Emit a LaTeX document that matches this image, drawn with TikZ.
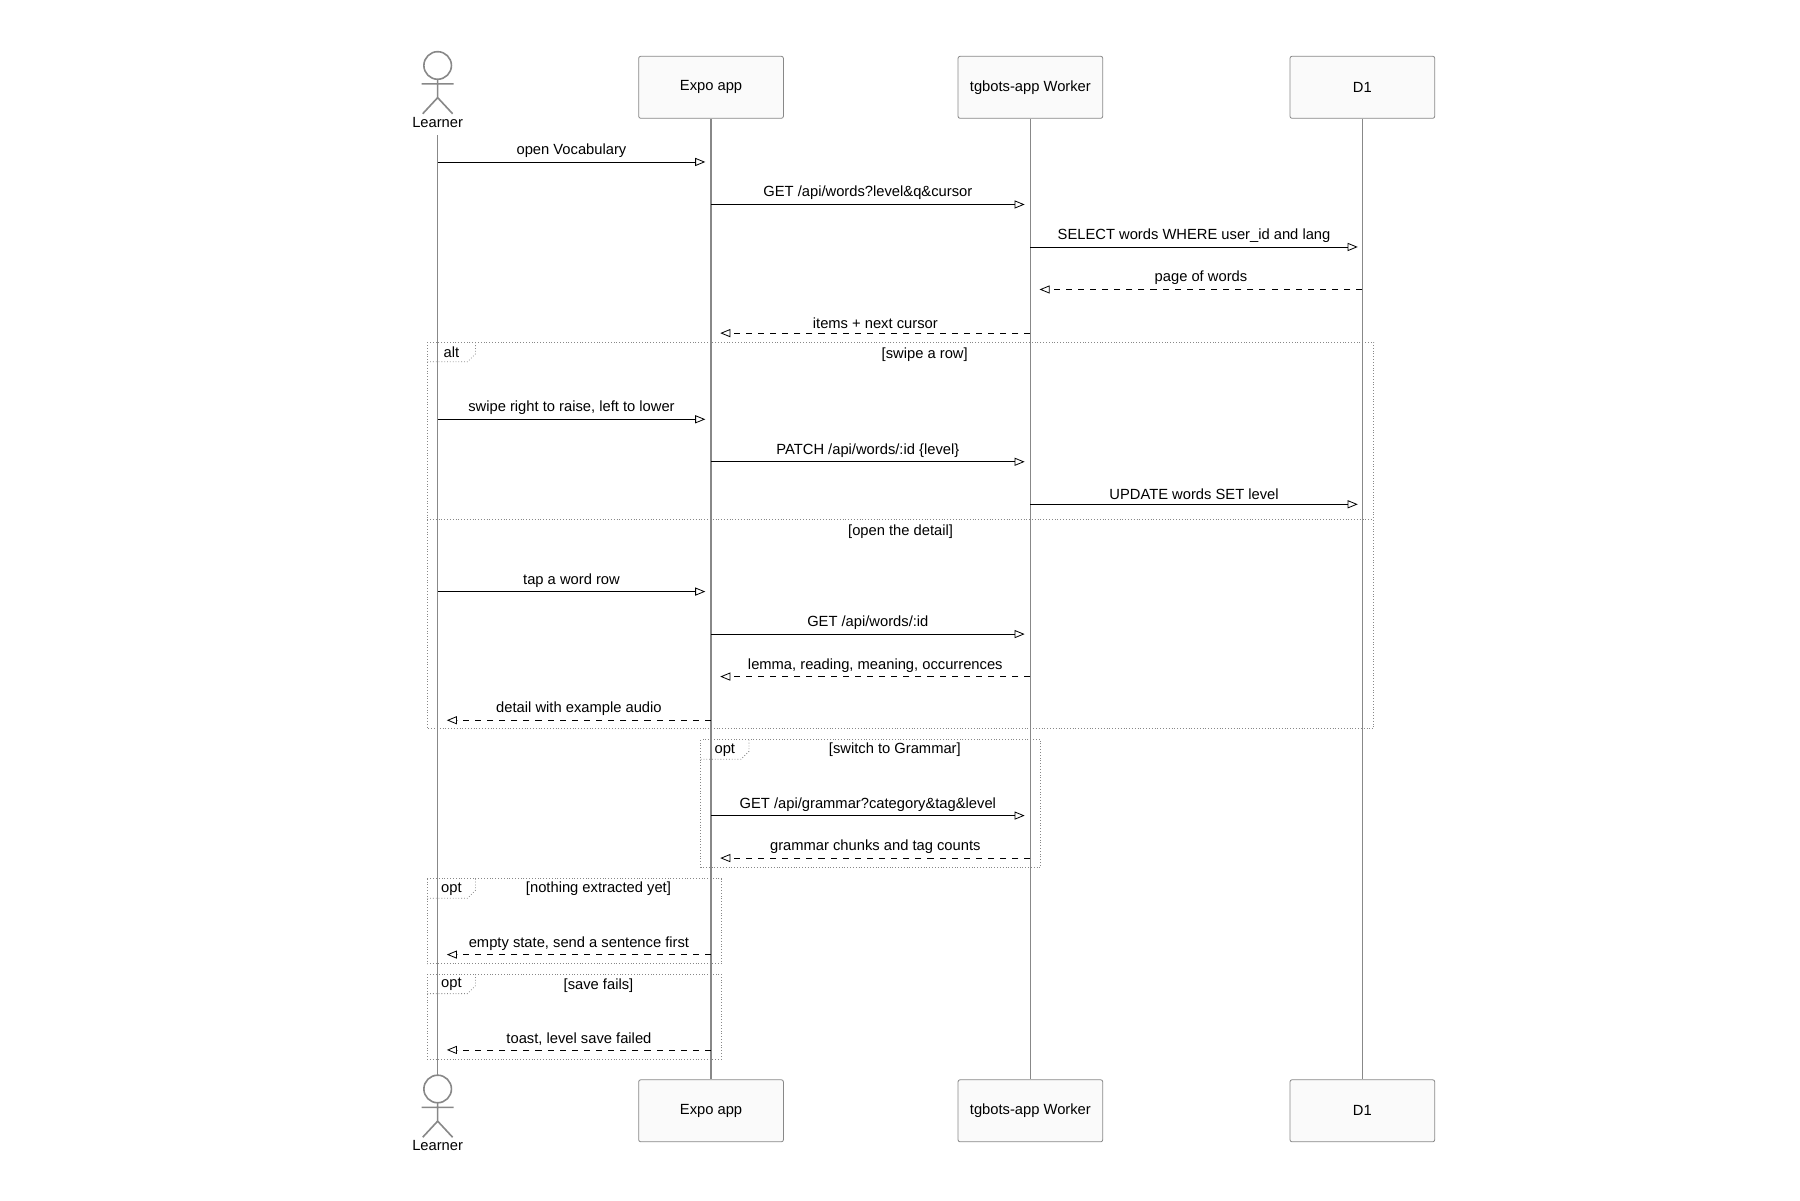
\documentclass[tikz,border=0pt]{standalone}
\usepackage{fontspec}
\setmainfont{Liberation Sans}
\usetikzlibrary{arrows.meta,calc}
\definecolor{lifegray}{HTML}{888888}
\definecolor{boxfill}{HTML}{FAFAFA}
\tikzset{
  part/.style={draw=lifegray, fill=boxfill, rounded corners=1pt, minimum width=2.52cm, minimum height=1.08cm, font=\fontsize{7.3}{9}\selectfont},
  life/.style={lifegray, thick},
  msg/.style={black, -{Triangle[open,length=5pt,width=4pt]}},
  ret/.style={msg, dashed},
  frame/.style={lifegray, densely dotted},
  lbl/.style={font=\fontsize{7.3}{9}\selectfont, above, inner sep=2pt},
  guard/.style={font=\fontsize{7.3}{9}\selectfont}
}
\begin{document}
\begin{tikzpicture}[x=0.02cm, y=-0.02cm]
    \useasboundingbox (0,0) rectangle (1567,1045);

    % participants
    \node[part] (e) at (619,76) {Expo app};
    \node[part] (w) at (897,76) {tgbots-app Worker};
    \node[part] (d) at (1186,76) {D1};
    \node[part] (eb) at (619,967) {Expo app};
    \node[part] (wb) at (897,967) {tgbots-app Worker};
    \node[part] (db) at (1186,967) {D1};

    % learner actor
    \draw[lifegray, thick] (381,57) circle (12);
    \draw[lifegray, thick] (381,69) -- (381,85) (367,73) -- (395,73) (381,85) -- (368,99) (381,85) -- (394,99);
    \node[guard] (l) at (381,107) {Learner};
    \draw[lifegray, thick] (381,948) circle (12);
    \draw[lifegray, thick] (381,960) -- (381,976) (367,964) -- (395,964) (381,976) -- (368,990) (381,976) -- (394,990);
    \node[guard] (lb) at (381,997) {Learner};

    % lifelines
    \draw[life] (l.south) -- (381,936);
    \draw[life] (e) -- (eb);
    \draw[life] (w) -- (wb);
    \draw[life] (d) -- (db);

    % frames
    \draw[frame] (372,298) rectangle (1196,634);
    \draw[frame] (372,452) -- (1196,452);
    \draw[frame] (372,315) -- (407,315) -- (414,308) -- (414,298);
    \node[guard] at (393,307) {alt};
    \node[guard] at (805,309) {[swipe a row]};
    \node[guard] at (784,463) {[open the detail]};

    \draw[frame] (610,644) rectangle (906,755);
    \draw[frame] (610,661) -- (645,661) -- (652,654) -- (652,644);
    \node[guard] at (631,653) {opt};
    \node[guard] at (779,653) {[switch to Grammar]};

    \draw[frame] (372,765) rectangle (628,839);
    \draw[frame] (372,782) -- (407,782) -- (414,775) -- (414,765);
    \node[guard] at (393,774) {opt};
    \node[guard] at (521,774) {[nothing extracted yet]};

    \draw[frame] (372,848) rectangle (628,922);
    \draw[frame] (372,865) -- (407,865) -- (414,858) -- (414,848);
    \node[guard] at (393,857) {opt};
    \node[guard] at (521,858) {[save fails]};

    % messages
    \draw[msg] (l |- 0,141) -- node[lbl] {open Vocabulary} ($(e |- 0,141)+(-5,0)$);
    \draw[msg] (e |- 0,178) -- node[lbl] {GET /api/words?level\&q\&cursor} ($(w |- 0,178)+(-5,0)$);
    \draw[msg] (w |- 0,215) -- node[lbl] {SELECT words WHERE user\_id and lang} ($(d |- 0,215)+(-4,0)$);
    \draw[ret] (d |- 0,252) -- node[lbl] {page of words} ($(w |- 0,252)+(8,0)$);
    \draw[ret] (w |- 0,290) -- node[lbl] {items + next cursor} ($(e |- 0,290)+(8,0)$);

    \draw[msg] (l |- 0,365) -- node[lbl] {swipe right to raise, left to lower} ($(e |- 0,365)+(-5,0)$);
    \draw[msg] (e |- 0,402) -- node[lbl] {PATCH /api/words/:id \{level\}} ($(w |- 0,402)+(-5,0)$);
    \draw[msg] (w |- 0,439) -- node[lbl] {UPDATE words SET level} ($(d |- 0,439)+(-4,0)$);

    \draw[msg] (l |- 0,515) -- node[lbl] {tap a word row} ($(e |- 0,515)+(-5,0)$);
    \draw[msg] (e |- 0,552) -- node[lbl] {GET /api/words/:id} ($(w |- 0,552)+(-5,0)$);
    \draw[ret] (w |- 0,589) -- node[lbl] {lemma, reading, meaning, occurrences} ($(e |- 0,589)+(8,0)$);
    \draw[ret] (e |- 0,627) -- node[lbl] {detail with example audio} ($(l |- 0,627)+(8,0)$);

    \draw[msg] (e |- 0,710) -- node[lbl] {GET /api/grammar?category\&tag\&level} ($(w |- 0,710)+(-5,0)$);
    \draw[ret] (w |- 0,747) -- node[lbl] {grammar chunks and tag counts} ($(e |- 0,747)+(8,0)$);

    \draw[ret] (e |- 0,831) -- node[lbl] {empty state, send a sentence first} ($(l |- 0,831)+(8,0)$);
    \draw[ret] (e |- 0,914) -- node[lbl] {toast, level save failed} ($(l |- 0,914)+(8,0)$);
\end{tikzpicture}
\end{document}
